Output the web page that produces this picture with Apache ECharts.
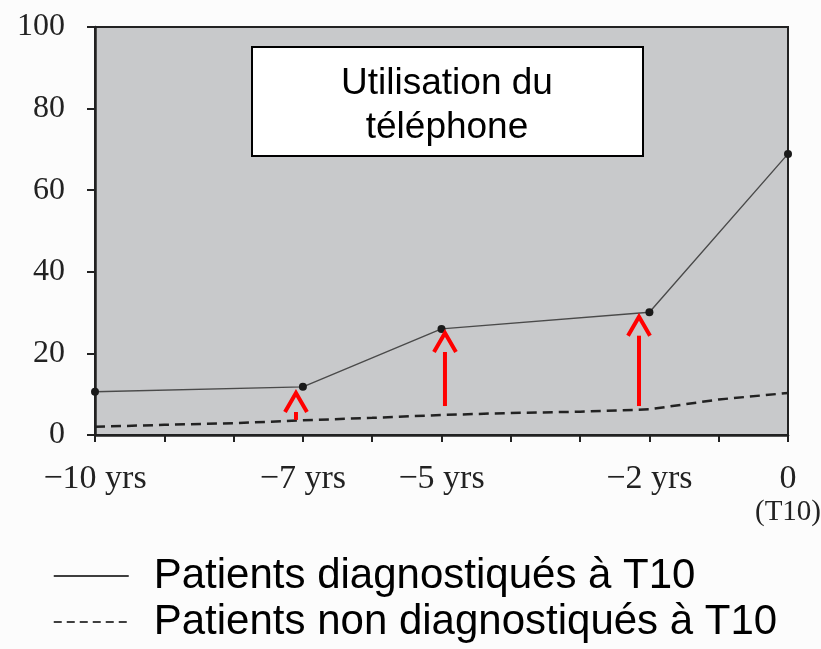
<!DOCTYPE html>
<html>
<head>
<meta charset="utf-8">
<script src="https://cdn.jsdelivr.net/npm/echarts@6/dist/echarts.min.js"></script>
<style>
  html, body { margin: 0; padding: 0; background: #fcfcfc; overflow: hidden; }
  #chart { width: 821px; height: 649px; }
</style>
</head>
<body>
<div id="chart"></div>
<script>
// values (years before T10, % of patients)
const years = [-10, -7, -5, -2, 0];
const diagnosed = [10.6, 11.8, 26.0, 30.1, 68.9];

const dashYears = [-10, -9, -8, -7, -6, -5, -4, -3, -2, -1, 0];
const notDiagnosed = [2.0, 2.5, 2.9, 3.6, 4.2, 4.9, 5.4, 5.7, 6.3, 8.7, 10.3];

// red arrows: x position, start value, tip value
const arrowX = [-7.1, -4.95, -2.15];
const arrowFrom = [3.7, 7.1, 7.1];
const arrowTo = [10.3, 25.0, 29.0];

const xLabelVals = [-10, -7, -5, -2, 0];
const xLabelText = ['\u221210 yrs', '\u22127 yrs', '\u22125 yrs', '\u22122 yrs', '0\n{t|(T10)}'];

const seriesNames = ['Patients diagnostiqués à T10', 'Patients non diagnostiqués à T10'];

let myChart = echarts.init(document.getElementById('chart'));

let option = {
    backgroundColor: '#fcfcfc',
    animation: false,
    grid: {
        left: 95,
        right: 33,
        top: 27,
        bottom: 214,
        outerBoundsMode: 'none',
        show: true,
        backgroundColor: '#c8c9cb',
        borderColor: '#222',
        borderWidth: 2
    },
    legend: {
        orient: 'vertical',
        left: 53,
        top: 555,
        height: 120,
        padding: 0,
        itemWidth: 75,
        itemHeight: 14,
        itemGap: 4,
        textStyle: {
            fontFamily: 'Liberation Sans',
            fontSize: 42,
            lineHeight: 42,
            color: '#000',
            padding: [0, 0, 0, 20]
        },
        data: [
            {name: seriesNames[0], itemStyle: {opacity: 0}, lineStyle: {color: '#000', width: 1.5, type: 'solid'}},
            {name: seriesNames[1], itemStyle: {opacity: 0}, lineStyle: {color: '#000', width: 1.5, type: [8, 5]}}
        ]
    },
    xAxis: {
        type: 'value',
        min: -10,
        max: 0,
        interval: 1,
        axisLine: {onZero: false, lineStyle: {color: '#222', width: 2.5}},
        axisTick: {show: true, inside: false, length: 7, lineStyle: {color: '#222', width: 2}},
        splitLine: {show: false},
        axisLabel: {
            showMinLabel: true,
            showMaxLabel: true,
            margin: 28,
            fontFamily: 'Liberation Serif',
            fontSize: 34,
            lineHeight: 33,
            color: '#222',
            rich: {
                t: {fontFamily: 'Liberation Serif', fontSize: 29, lineHeight: 33, color: '#222'}
            },
            formatter: function (v) {
                let i = xLabelVals.indexOf(Math.round(v));
                return i >= 0 ? xLabelText[i] : '';
            }
        }
    },
    yAxis: {
        type: 'value',
        min: 0,
        max: 100,
        interval: 20,
        axisLine: {show: true, onZero: false, lineStyle: {color: '#222', width: 2.5}},
        axisTick: {show: true, inside: false, length: 8, lineStyle: {color: '#222', width: 2}},
        splitLine: {show: false},
        axisLabel: {
            margin: 30,
            fontFamily: 'Liberation Serif',
            fontSize: 32,
            color: '#222'
        }
    },
    graphic: [
        {
            type: 'group',
            left: 251,
            top: 46,
            z: 100,
            children: [
                {
                    type: 'rect',
                    shape: {x: 0, y: 0, width: 391, height: 109},
                    style: {fill: '#fff', stroke: '#000', lineWidth: 2}
                },
                {
                    type: 'text',
                    x: 195,
                    y: 59,
                    style: {
                        text: 'Utilisation du\ntéléphone',
                        fontFamily: 'Liberation Sans',
                        fontSize: 37,
                        lineHeight: 44,
                        fill: '#000',
                        align: 'center',
                        verticalAlign: 'middle'
                    }
                }
            ]
        }
    ],
    series: [
        {
            name: seriesNames[0],
            type: 'line',
            data: years.map((x, i) => [x, diagnosed[i]]),
            symbol: 'circle',
            symbolSize: 8,
            itemStyle: {color: '#1a1a1a'},
            lineStyle: {color: '#4a4a4a', width: 1.4},
            z: 3
        },
        {
            name: seriesNames[1],
            type: 'line',
            data: dashYears.map((x, i) => [x, notDiagnosed[i]]),
            showSymbol: false,
            symbol: 'none',
            itemStyle: {color: '#222'},
            lineStyle: {color: '#222', width: 2.5, type: [10, 6]},
            z: 2
        },
        {
            name: 'arrows',
            type: 'custom',
            data: arrowX.map((x, i) => [x, arrowFrom[i], arrowTo[i]]),
            encode: {x: 0, y: [1, 2]},
            z: 4,
            renderItem: function (params, api) {
                let base = api.coord([api.value(0), api.value(1)]);
                let tip = api.coord([api.value(0), api.value(2)]);
                let headH = 19, headW = 11;
                let style = {stroke: '#ff0000', lineWidth: 4, fill: null};
                return {
                    type: 'group',
                    children: [
                        {
                            type: 'line',
                            shape: {x1: base[0], y1: base[1], x2: tip[0], y2: tip[1] + headH},
                            style: style
                        },
                        {
                            type: 'polyline',
                            shape: {points: [[tip[0] - headW, tip[1] + headH], [tip[0], tip[1]], [tip[0] + headW, tip[1] + headH]]},
                            style: style
                        }
                    ]
                };
            }
        }
    ]
};
myChart.setOption(option);
</script>
</body>
</html>
